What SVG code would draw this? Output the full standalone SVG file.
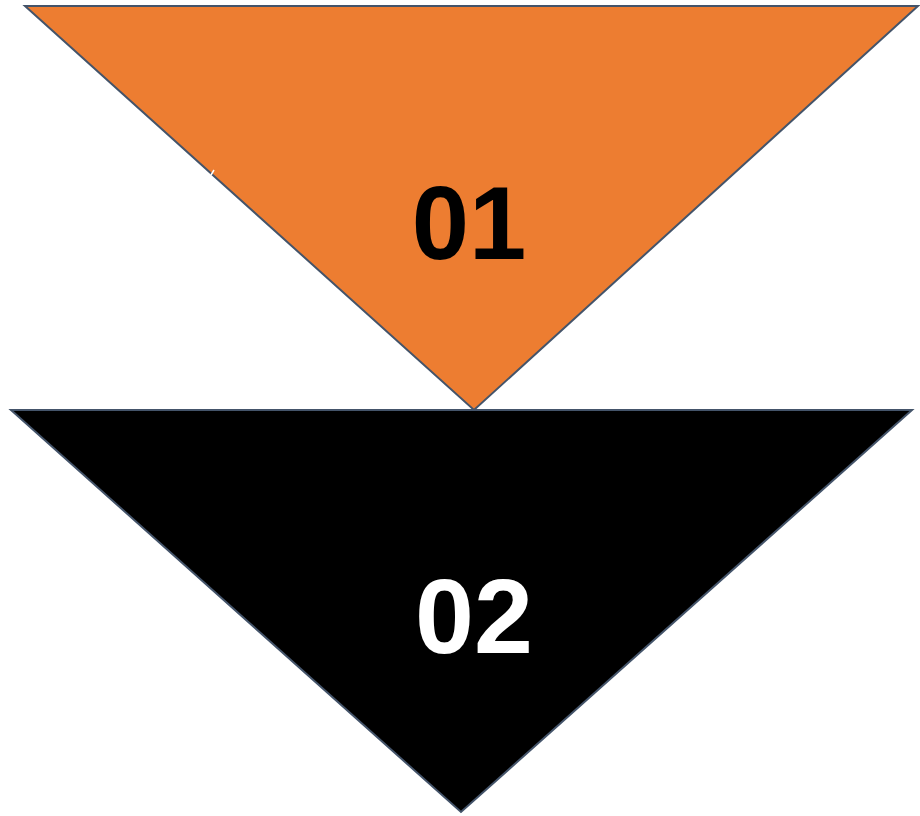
<svg xmlns="http://www.w3.org/2000/svg" width="920" height="816" viewBox="0 0 920 816">
<style>
.tri{stroke:#44546A;stroke-width:2;stroke-linejoin:miter}
.lbl{font-family:"Liberation Sans",Arial,sans-serif;font-weight:bold;font-size:106px;text-anchor:middle}
</style>
<rect width="920" height="816" fill="#FFFFFF"/>
<g id="node-01">
<polygon class="tri" points="25,6 918,6 474,410" fill="#ED7D31"/>
<line x1="211" y1="175" x2="214" y2="170" stroke="#FFFFFF" stroke-width="1.5"/>
<text class="lbl" x="469" y="259" fill="#000000" style="font-size:103px">01</text>
</g>
<g id="node-02">
<polygon class="tri" points="11,410 912,410 461,812" fill="#000000"/>
<text class="lbl" x="474" y="653" fill="#FFFFFF">02</text>
</g>
<g id="connectors"></g>
</svg>
